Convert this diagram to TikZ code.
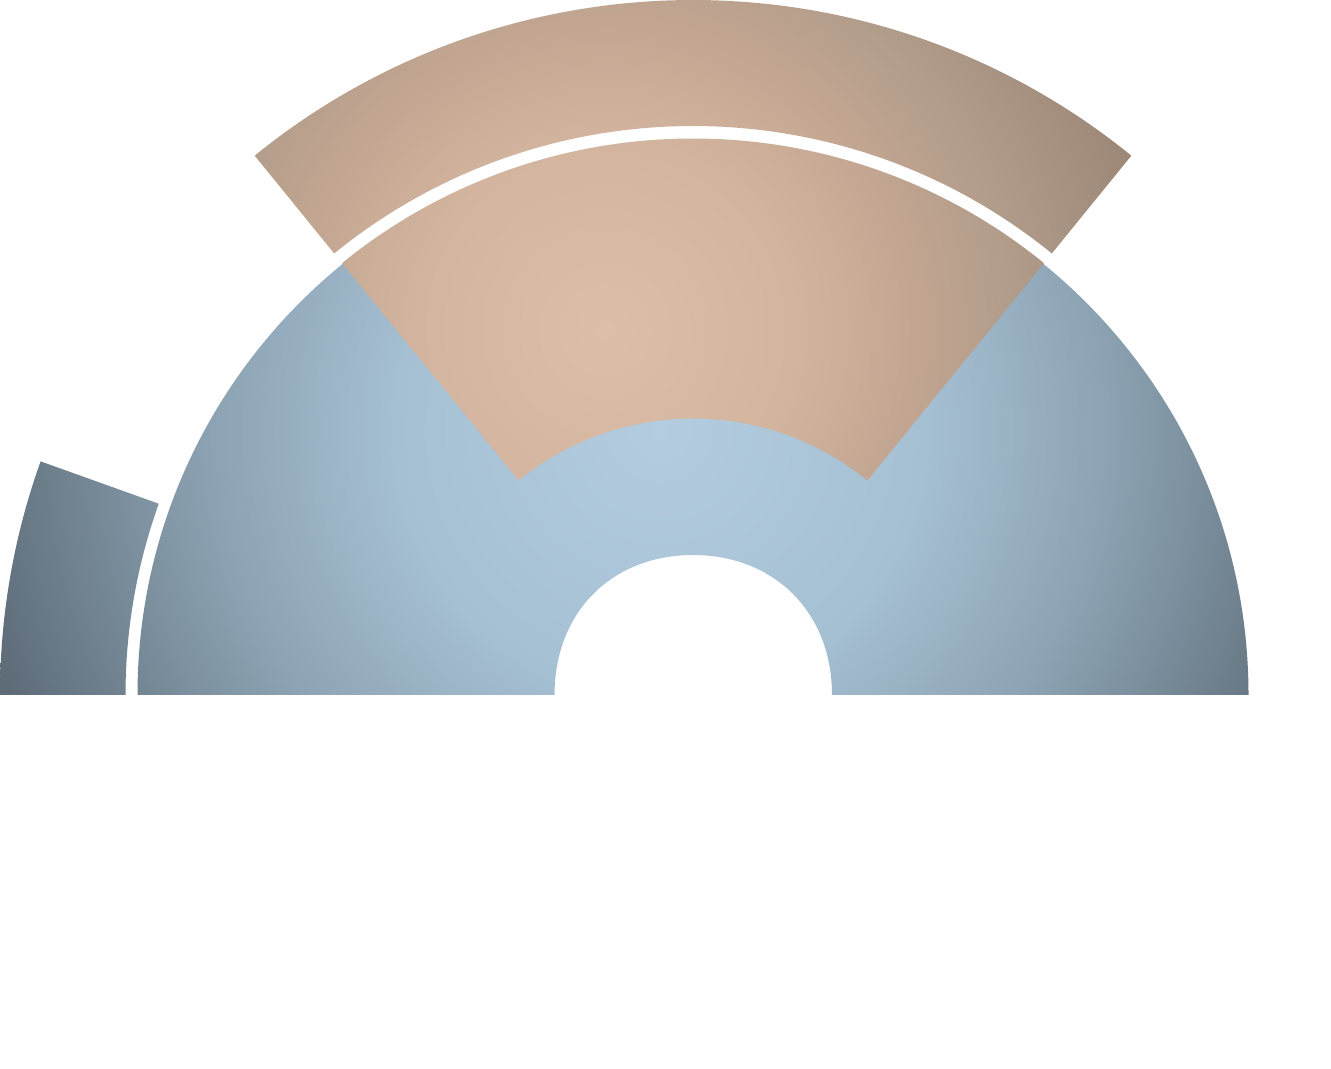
\documentclass[tikz,border=0pt]{standalone}
\usetikzlibrary{calc}
\definecolor{blA}{HTML}{B3CCE0}
\definecolor{blB}{HTML}{A5BFD3}
\definecolor{blC}{HTML}{8CA3B3}
\definecolor{blD}{HTML}{5E6C78}
\definecolor{tnA}{HTML}{DDBEA8}
\definecolor{tnB}{HTML}{D3B59F}
\definecolor{tnC}{HTML}{C4A792}
\definecolor{tnD}{HTML}{B39D8B}
\definecolor{tnE}{HTML}{9D8878}
\pgfdeclareradialshading{blueshade}{\pgfpoint{0bp}{0bp}}{color(0bp)=(blA); color(4.75bp)=(blB); color(8bp)=(blC); color(12.5bp)=(blD); color(50bp)=(blD)}
\pgfdeclareradialshading{tanshade}{\pgfpoint{0bp}{0bp}}{color(0bp)=(tnA); color(4.3bp)=(tnB); color(6.8bp)=(tnC); color(9bp)=(tnD); color(12.5bp)=(tnE); color(50bp)=(tnE)}
\tikzset{
  bluefill/.style={path picture={\shade[shading=blueshade] (13.2,12.76) circle (28cm);}},
  tanfill/.style={path picture={\shade[shading=tanshade] (12.1,14.76) circle (22cm);}}
}
\begin{document}
\begin{tikzpicture}
\useasboundingbox[fill=white] (0,0) rectangle (26.62,21.36);
\coordinate (C) at (13.86,7.46);
% blue half ring with arch hole, plus left piece
\path[bluefill]
  ($(C)+(-11.11,0)$) arc[start angle=180, end angle=0, radius=11.11cm]
  -- ($(C)+(2.78,0)$)
  .. controls ($(C)+(2.78,1.66)$) and ($(C)+(1.62,2.80)$) .. ($(C)+(0,2.80)$)
  .. controls ($(C)+(-1.62,2.80)$) and ($(C)+(-2.77,1.66)$) .. ($(C)+(-2.77,0)$)
  -- cycle
  ($(C)+(180:13.86)$) arc[start angle=180, end angle=160.3, radius=13.86cm]
  -- ($(C)+(160.3:11.35)$) arc[start angle=160.3, end angle=180, radius=11.35cm]
  -- cycle;
% tan wedge and outer band
\path[tanfill]
  ($(C)+(50.9:5.53)$) -- ($(C)+(50.9:11.13)$) arc[start angle=50.9, end angle=129.1, radius=11.13cm]
  -- ($(C)+(129.1:5.53)$) arc[start angle=129.1, end angle=50.9, radius=5.53cm] -- cycle
  ($(C)+(50.9:11.38)$) -- ($(C)+(50.9:13.90)$) arc[start angle=50.9, end angle=129.1, radius=13.90cm]
  -- ($(C)+(129.1:11.38)$) arc[start angle=129.1, end angle=50.9, radius=11.38cm] -- cycle;
\end{tikzpicture}
\end{document}
